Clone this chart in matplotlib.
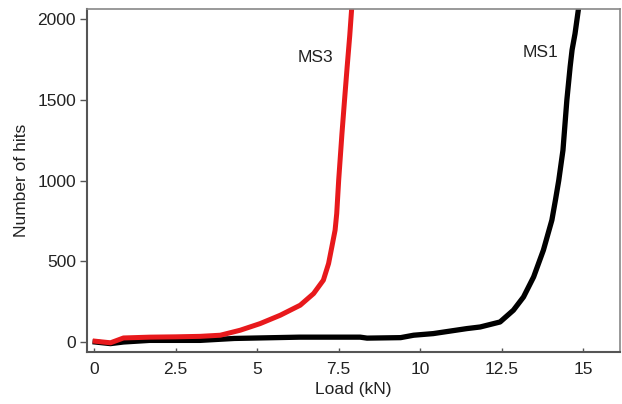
import matplotlib
matplotlib.use("Agg")
import matplotlib.pyplot as plt

plt.rcParams['font.family'] = ['Liberation Sans', 'DejaVu Sans']

# MS3 curve (red)
ms3_load = [0.03, 0.5, 0.9, 1.7, 2.5, 3.25, 3.87, 4.48, 5.09, 5.71, 6.32, 6.73,
            7.03, 7.19, 7.29, 7.39, 7.44, 7.5, 7.6, 7.68, 7.76, 7.84, 7.9]
ms3_hits = [5, -5, 25, 30, 32, 35, 42, 73, 114, 166, 228, 300,
            383, 486, 589, 693, 796, 1003, 1290, 1500, 1705, 1900, 2070]

# MS1 curve (black)
ms1_load = [0.03, 0.5, 0.9, 1.7, 3.25, 4.3, 6.3, 7.5, 8.16, 8.37, 9.4, 9.8,
            10.4, 11.43, 11.84, 12.45, 12.86, 13.17, 13.48, 13.78, 14.04, 14.15,
            14.25, 14.38, 14.5, 14.6, 14.66, 14.75, 14.86]
ms1_hits = [0, -10, 0, 10, 10, 22, 30, 30, 30, 24, 27, 42,
            52, 83, 93, 124, 197, 279, 403, 569, 755, 880,
            1000, 1188, 1500, 1705, 1810, 1910, 2070]

x_ticks = [0, 2.5, 5, 7.5, 10, 12.5, 15]
x_tick_labels = ["0", "2.5", "5", "7.5", "10", "12.5", "15"]
y_ticks = [0, 500, 1000, 1500, 2000]

fig = plt.figure(figsize=(6.22, 4.04), dpi=100)
ax = fig.add_axes([0.1399, 0.1287, 0.8569, 0.849])

ax.plot(ms1_load, ms1_hits, color="black", lw=3.8, solid_joinstyle="round")
ax.plot(ms3_load, ms3_hits, color="#e8191c", lw=3.6, solid_joinstyle="round")

ax.text(6.8, 1765, "MS3", fontsize=12.5, ha="center", va="center", color="#222222")
ax.text(13.7, 1796, "MS1", fontsize=12.5, ha="center", va="center", color="#222222")

ax.set_xlim(-0.22, 16.13)
ax.set_ylim(-62, 2063)
ax.set_xticks(x_ticks)
ax.set_xticklabels(x_tick_labels)
ax.set_yticks(y_ticks)

ax.tick_params(axis="x", direction="in", length=3, width=1, colors="#555555",
               labelcolor="#222222", labelsize=12.5, pad=7)
ax.tick_params(axis="y", direction="out", length=5, width=1, colors="#555555",
               labelcolor="#222222", labelsize=12.5, pad=3)

for side in ["left", "bottom"]:
    ax.spines[side].set_color("#555555")
    ax.spines[side].set_linewidth(1.5)
for side in ["top", "right"]:
    ax.spines[side].set_color("#888888")
    ax.spines[side].set_linewidth(1.2)

ax.set_xlabel("Load (kN)", fontsize=12.5, color="#222222", labelpad=4)
ax.set_ylabel("Number of hits", fontsize=12.5, color="#222222", labelpad=6)

fig.savefig("out.png", dpi=100)
